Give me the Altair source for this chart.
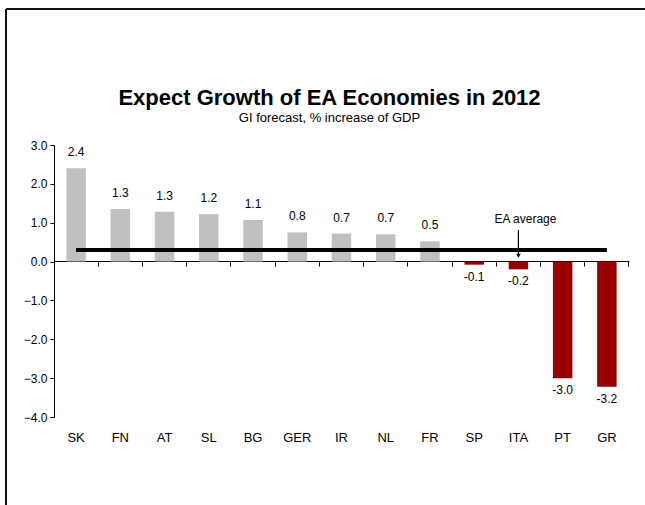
import altair as alt
import pandas as pd

countries = ["SK", "FN", "AT", "SL", "BG", "GER", "IR", "NL", "FR", "SP", "ITA", "PT", "GR"]
growth = [2.4, 1.35, 1.28, 1.22, 1.07, 0.75, 0.72, 0.7, 0.52, -0.08, -0.2, -3.0, -3.22]
labels = ["2.4", "1.3", "1.3", "1.2", "1.1", "0.8", "0.7", "0.7", "0.5", "-0.1", "-0.2", "-3.0", "-3.2"]
ea_average = 0.3
annotation_country = "ITA"
annotation_text = "EA average"

GREY = "#C0C0C0"
RED = "#990000"
FONT = "Liberation Sans"

df = pd.DataFrame({
    "country": countries,
    "growth": growth,
    "label": labels,
    "color": [GREY if v >= 0 else RED for v in growth],
})

xscale = alt.Scale(domain=countries, paddingInner=0.56, paddingOuter=0.28)
yscale = alt.Scale(domain=[-4, 3], nice=False, zero=False)

x_labels_axis = alt.Axis(orient="bottom", title=None, domain=False, ticks=False,
                         labelAngle=0, labelPadding=14, labelFontSize=13,
                         labelFont=FONT, labelColor="black", grid=False)
y_axis = alt.Axis(title=None, format=".1f", values=[-4, -3, -2, -1, 0, 1, 2, 3],
                  grid=False, domainColor="black", tickColor="black", tickSize=4,
                  labelFontSize=12, labelFont=FONT, labelColor="black", labelPadding=3)


def Y(field):
    return alt.Y(f"{field}:Q", scale=yscale, axis=y_axis)


def X(field, axis=None):
    return alt.X(f"{field}:N", sort=countries, scale=xscale, axis=axis)


base = alt.Chart(df)

bars = base.mark_bar().encode(
    x=X("country", x_labels_axis),
    y=Y("growth"),
    y2=alt.datum(0),
    color=alt.Color("color:N", scale=None),
)

pos_text = base.transform_filter("datum.growth >= 0").mark_text(
    baseline="alphabetic", dy=-12, fontSize=12, font=FONT, color="black"
).encode(x=X("country"), y=Y("growth"), text="label:N")
neg_text = base.transform_filter("datum.growth < 0").mark_text(
    baseline="top", dy=7, fontSize=12, font=FONT, color="black"
).encode(x=X("country"), y=Y("growth"), text="label:N")

# zero line axis with ticks at category boundaries
zero_axis = base.mark_bar(opacity=0).encode(
    x=X("country", alt.Axis(orient="bottom", offset=-156, labels=False, title=None,
                            domainColor="black", tickColor="black", tickSize=5,
                            bandPosition=1.636, grid=False)),
    y=Y("growth"),
)

avg_df = pd.DataFrame({"start": [countries[0]], "end": [countries[-1]], "avg": [ea_average]})
avg_line = alt.Chart(avg_df).mark_rule(color="black", strokeWidth=4).encode(
    x=X("start"), x2="end:N", y=Y("avg"),
)

ann_df = pd.DataFrame({"country": [annotation_country], "text": [annotation_text],
                       "ty": [0.98], "a1": [0.81], "a2": [0.17], "tip": [0.15]})
ann_text = alt.Chart(ann_df).mark_text(fontSize=12, font=FONT, color="black", dx=7,
                                       baseline="alphabetic").encode(
    x=X("country"), y=Y("ty"), text="text:N",
)
ann_arrow = alt.Chart(ann_df).mark_rule(color="black", strokeWidth=1.2).encode(
    x=X("country"), y=Y("a1"), y2="a2:Q",
)
ann_head = alt.Chart(ann_df).mark_point(shape="triangle-down", filled=True, color="black",
                                        size=22, opacity=1).encode(
    x=X("country"), y=Y("tip"),
)

# decorative frame (top and left edges)
frame_top = alt.Chart(avg_df).mark_rule(color="#111", strokeWidth=2).encode(
    x=alt.value(-48), x2=alt.value(600), y=alt.value(-136))
frame_left = alt.Chart(avg_df).mark_rule(color="#111", strokeWidth=2).encode(
    x=alt.value(-48), y=alt.value(-136), y2=alt.value(370))

chart = alt.layer(
    frame_top, frame_left, bars, zero_axis, avg_line, pos_text, neg_text,
    ann_arrow, ann_head, ann_text
).resolve_axis(x="independent").properties(
    width=575, height=272,
    background="white",
    padding={"left": 54, "top": 145, "right": 16, "bottom": 88},
    autosize=alt.AutoSizeParams(type="none"),
    title=alt.TitleParams(
        text="Expect Growth of EA Economies in 2012",
        subtitle="GI forecast, % increase of GDP",
        font=FONT, fontSize=22, fontWeight="bold", color="black",
        subtitleFont=FONT, subtitleFontSize=13, subtitleColor="black",
        subtitlePadding=2, anchor="middle", dx=-12, offset=-118,
    ),
).configure_view(strokeWidth=0, stroke="transparent")

chart.save("out.html", embed_options={"renderer": "svg", "actions": False})
